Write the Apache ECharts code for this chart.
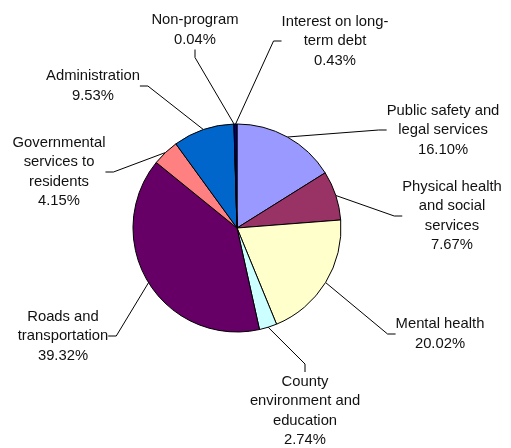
<!DOCTYPE html>
<html><head><meta charset="utf-8">
<script src="https://cdn.jsdelivr.net/npm/echarts@6/dist/echarts.min.js"></script>
<style>html,body{margin:0;padding:0;background:#fff}#c{width:511px;height:448px}</style>
</head><body><div id="c"></div>
<script>
const categories = [
  "Public safety and\nlegal services",
  "Physical health\nand social\nservices",
  "Mental health",
  "County\nenvironment and\neducation",
  "Roads and\ntransportation",
  "Governmental\nservices to\nresidents",
  "Administration",
  "Non-program",
  "Interest on long-\nterm debt"
];
const values = [16.10, 7.67, 20.02, 2.74, 39.32, 4.15, 9.53, 0.04, 0.43];
const colors = ["#9999FF", "#993366", "#FFFFCC", "#CCFFFF", "#660066", "#FF8080", "#0066CC", "#CCCCFF", "#000080"];
// label block centres (layout only)
const labelPos = [[443,130],[452,216],[440,334],[305,411],[63,336],[59,172],[93,86],[195,30],[335,41]];

const chart = echarts.init(document.getElementById('c'), null, {renderer:'canvas'});
chart.setOption({
  animation:false,
  backgroundColor:'#fff',
  series:[{
    type:'pie',
    center:[237,228],
    radius:[0,104],
    startAngle:90,
    clockwise:true,
    avoidLabelOverlap:false,
    data: categories.map((n,i)=>({name:n, value:values[i], itemStyle:{color:colors[i]}})),
    itemStyle:{borderColor:'#000', borderWidth:1},
    label:{
      show:true,
      formatter: p => p.name + '\n' + p.value.toFixed(2) + '%',
      fontFamily:'Liberation Sans, Arial, sans-serif',
      fontSize:14.8,
      lineHeight:19.5,
      color:'#111',
      align:'center'
    },
    labelLine:{show:true, lineStyle:{color:'#000', width:1}, length:15, length2:8},
    labelLayout: function(p){
      const pos = labelPos[p.dataIndex];
      return {x:pos[0], y:pos[1], align:'center', verticalAlign:'middle'};
    },
    emphasis:{disabled:true}
  }]
});
</script></body></html>
